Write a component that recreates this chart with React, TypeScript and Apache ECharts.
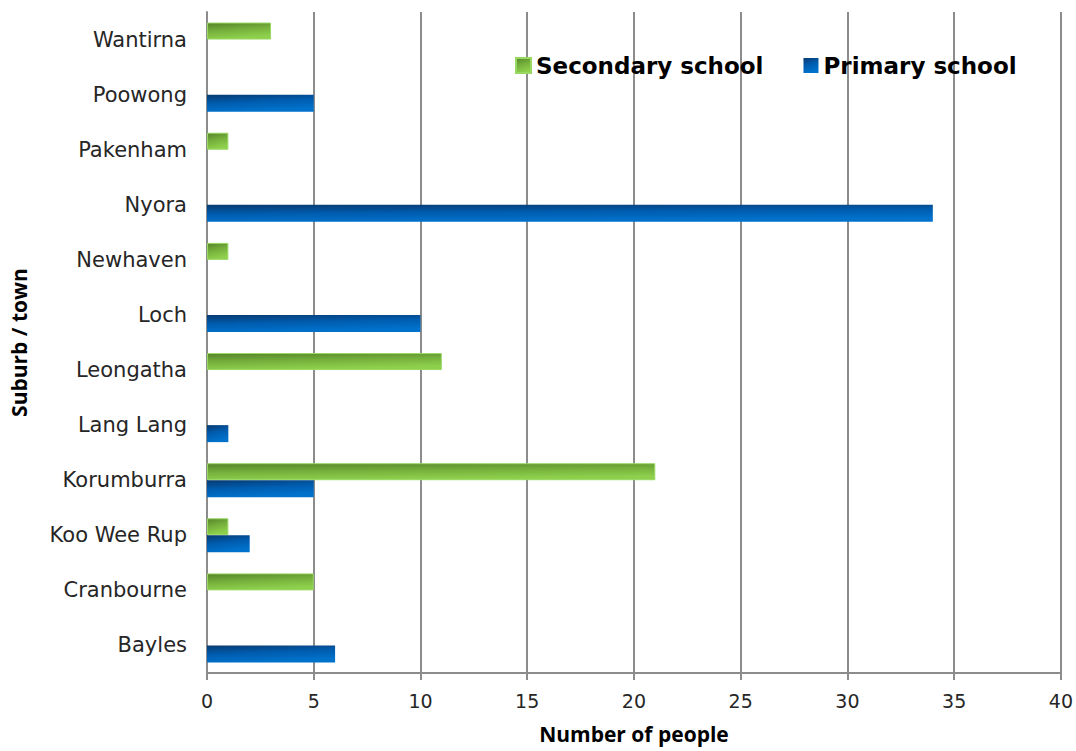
import React, { useEffect, useRef } from "react";
import * as echarts from "echarts";

const categories = ["Bayles", "Cranbourne", "Koo Wee Rup", "Korumburra", "Lang Lang", "Leongatha", "Loch", "Newhaven", "Nyora", "Pakenham", "Poowong", "Wantirna"];
const primary = [6, null, 2, 5, 1, null, 10, null, 34, null, 5, null];
const secondary = [null, 5, 1, 21, null, 11, null, 1, null, 1, null, 3];
const xTicks = [0, 5, 10, 15, 20, 25, 30, 35, 40];

const blueGrad = new echarts.graphic.LinearGradient(0, 0, 0.3, 1, [
  { offset: 0, color: "#083a70" },
  { offset: 0.5, color: "#005cae" },
  { offset: 1, color: "#0072cc" },
]);
const greenGrad = new echarts.graphic.LinearGradient(0, 0, 0.3, 1, [
  { offset: 0, color: "#55842a" },
  { offset: 0.5, color: "#76b03c" },
  { offset: 1, color: "#8ed04c" },
]);

export default function App() {
  const ref = useRef<HTMLDivElement>(null);
  useEffect(() => {
    const chart = echarts.init(ref.current!, null, { renderer: "svg" });
    chart.setOption({
      animation: false,
      grid: { left: 206, right: 14, top: 12, bottom: 78, containLabel: false },
      legend: {
        data: ["Secondary school", "Primary school"],
        left: 510,
        top: 49,
        itemWidth: 15,
        itemHeight: 15,
        itemGap: 40,
        icon: "rect",
        textStyle: { fontFamily: "DejaVu Sans", fontWeight: "bold", fontSize: 23, color: "#000" },
      },
      xAxis: {
        type: "value",
        min: 0,
        max: 40,
        interval: 5,
        name: "Number of people",
        nameLocation: "middle",
        nameGap: 50,
        nameTextStyle: { fontFamily: "Open Sans", fontWeight: "bold", fontSize: 21, color: "#000" },
        axisLine: { show: true, lineStyle: { color: "#8c8c8c", width: 2 } },
        axisTick: { show: true, length: 7, lineStyle: { color: "#8c8c8c", width: 2 } },
        axisLabel: { fontFamily: "DejaVu Sans", fontSize: 19, color: "#262626", margin: 18, formatter: (v: number) => (xTicks.includes(v) ? String(v) : "") },
        splitLine: { show: true, lineStyle: { color: "#8c8c8c", width: 2 } },
      },
      yAxis: {
        type: "category",
        data: categories,
        name: "Suburb / town",
        nameLocation: "middle",
        nameGap: 178,
        nameRotate: 90,
        nameTextStyle: { fontFamily: "Open Sans", fontWeight: "bold", fontSize: 21, color: "#000" },
        axisLine: { show: true, lineStyle: { color: "#8c8c8c", width: 2 } },
        axisTick: { show: false },
        axisLabel: { fontFamily: "DejaVu Sans", fontSize: 21, color: "#262626", margin: 20 },
      },
      series: [
        {
          name: "Secondary school",
          type: "bar",
          data: secondary,
          barWidth: 17,
          barGap: "0%",
          itemStyle: { color: greenGrad, borderColor: "#9ad864", borderWidth: 1 },
        },
        {
          name: "Primary school",
          type: "bar",
          data: primary,
          barWidth: 17,
          barGap: "0%",
          itemStyle: { color: blueGrad },
        },
      ],
    });
    return () => chart.dispose();
  }, []);
  return <div ref={ref} style={{ width: 1076, height: 751, position: "absolute", left: 0, top: 0 }} />;
}
